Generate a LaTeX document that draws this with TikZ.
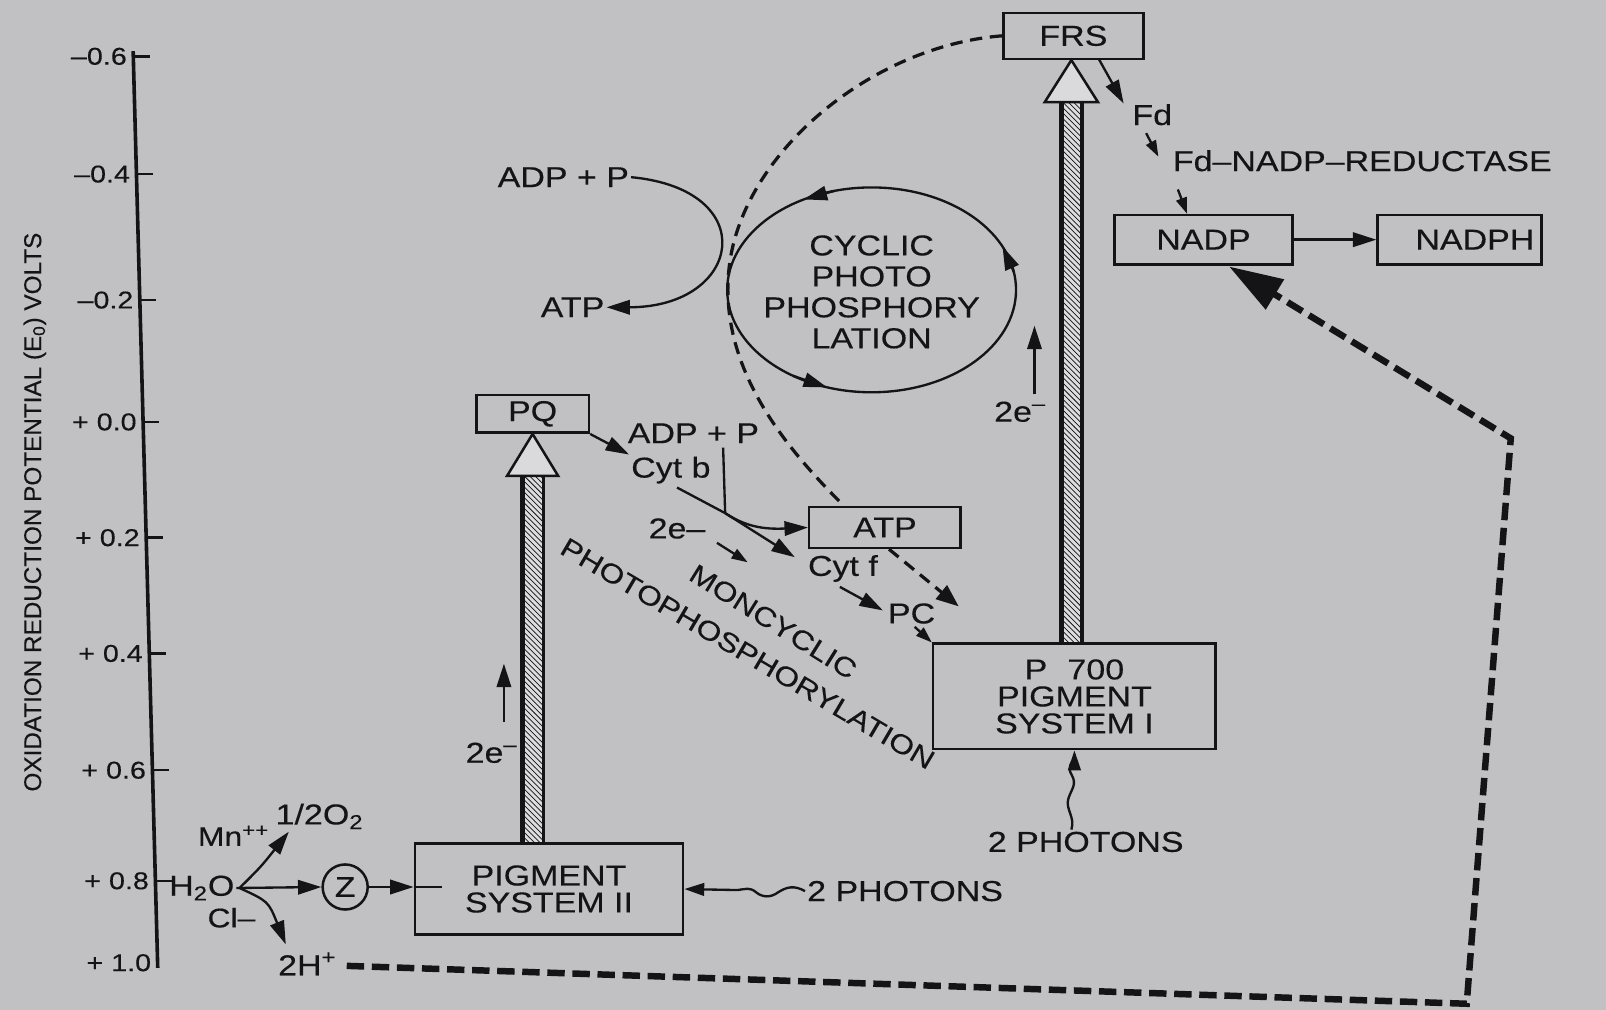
\documentclass[tikz,border=0pt]{standalone}
\usepackage{fontspec}
\setmainfont{Liberation Sans}[FakeStretch=1.18,FakeBold=0.3]
\newfontfamily\axisfont{Liberation Sans}[FakeBold=0.3]
\usetikzlibrary{arrows.meta,patterns,calc}
\definecolor{bg}{RGB}{193,193,196}
\definecolor{ink}{RGB}{20,20,22}
\begin{document}
\begin{tikzpicture}[x=0.02cm,y=-0.02cm,
  every node/.style={text=ink,font=\fontsize{16}{15}\selectfont},
  box/.style={draw=ink,line width=1.4pt,rectangle,inner sep=0pt,align=center},
  lbl/.style={inner sep=1pt,align=center},
  ticklbl/.style={inner sep=0pt,anchor=east,font=\fontsize{13.5}{14}\selectfont},
  ln/.style={draw=ink,line width=1.3pt},
  arr/.style={ln,-{Triangle[length=13pt,width=8pt]}},
  sarr/.style={ln,-{Triangle[length=9pt,width=6pt]}},
  bigdash/.style={draw=ink,line width=3.6pt,dash pattern=on 0.34cm off 0.15cm},
  thindash/.style={draw=ink,line width=1.8pt,dash pattern=on 0.24cm off 0.15cm},
  colbar/.style={pattern=north west lines,pattern color=ink},
]
\fill[bg] (0,0) rectangle (1568,986);
\useasboundingbox (0,0) rectangle (1568,986);

% ---------- axis ----------
\coordinate (axtop) at (130,50);
\coordinate (axbot) at (154,945);
\draw[ink,line width=2pt] (axtop) -- (axbot);
\foreach \y/\t/\n in {55/{–0.6}/a,170/{–0.4}/b,293/{–0.2}/c,412/{+ 0.0}/d,525/{+ 0.2}/e,638/{+ 0.4}/f,752/{+ 0.6}/g,860/{+ 0.8}/h,940/{+ 1.0}/i}{
  \pgfmathsetmacro\ax{130+(\y-50)/895*24}
  \node[ticklbl] (tick\n) at (\ax-6,\y) {\t};
}
\foreach \y in {55,170,293,412,525,638,752,860}{
  \pgfmathsetmacro\ax{130+(\y-50)/895*24}
  \draw[ink,line width=1.4pt] (\ax,\y) -- (\ax+16,\y);
}
\node[rotate=90,inner sep=0pt,font=\axisfont\fontsize{13.5}{14}\selectfont] (axlab) at (34,500)
  {OXIDATION REDUCTION POTENTIAL (E\textsubscript{0}) VOLTS};

% ---------- boxes ----------
\node[box,minimum width=2.74cm,minimum height=0.9cm] (frs) at (1048,35) {FRS};
\node[box,minimum width=3.48cm,minimum height=0.96cm] (nadp) at (1175,234) {NADP};
\node[box,minimum width=3.2cm,minimum height=0.96cm] (nadph) at (1425,234) {\hspace{0.6cm}NADPH};
\node[box,minimum width=2.2cm,minimum height=0.74cm] (pq) at (520,404) {PQ};
\node[box,minimum width=2.96cm,minimum height=0.8cm] (atp2) at (864,515) {ATP};
\node[box,minimum width=5.24cm,minimum height=1.78cm] (psii) at (536,868) {PIGMENT\\SYSTEM II};
\node[box,minimum width=5.52cm,minimum height=2.06cm] (psi) at (1049,680) {P\hspace{0.7em}700\\PIGMENT\\SYSTEM I};

% ---------- hatched columns ----------
% PSII -> PQ
\coordinate (c2a) at (pq.south);
\coordinate (c2t) at ($(pq.south)+(0,41)$);
\coordinate (c2b) at (pq.south |- psii.north);
\fill[bg!55!white] ($(c2t)+(-11,0)$) rectangle ($(c2b)+(11,0)$);
\fill[colbar] ($(c2t)+(-11,0)$) rectangle ($(c2b)+(11,0)$);
\draw[ink,line width=2.8pt] ($(c2t)+(-10,0)$) -- ($(c2b)+(-10,0)$);
\draw[ink,line width=1.8pt] ($(c2t)+(10.5,0)$) -- ($(c2b)+(10.5,0)$);
\draw[ink,line width=1.4pt,fill=bg!60!white,line join=miter] (c2a) -- ($(c2t)+(-25,0)$) -- ($(c2t)+(25,0)$) -- cycle;
% PSI -> FRS
\coordinate (c1a) at ($(frs.south)+(-2,0)$);
\coordinate (c1t) at ($(frs.south)+(-2,41)$);
\coordinate (c1b) at (c1a |- psi.north);
\fill[bg!55!white] ($(c1t)+(-11,0)$) rectangle ($(c1b)+(11,0)$);
\fill[colbar] ($(c1t)+(-11,0)$) rectangle ($(c1b)+(11,0)$);
\draw[ink,line width=2.8pt] ($(c1t)+(-10,0)$) -- ($(c1b)+(-10,0)$);
\draw[ink,line width=1.8pt] ($(c1t)+(10.5,0)$) -- ($(c1b)+(10.5,0)$);
\draw[ink,line width=1.4pt,fill=bg!60!white,line join=miter] (c1a) -- ($(c1t)+(-26,0)$) -- ($(c1t)+(26,0)$) -- cycle;

% ---------- 2e- arrows ----------
\node[lbl] (e2a) at (480,735) {2e\textsuperscript{–}};
\coordinate (e2ab) at (492,705);
\coordinate (e2at) at (492,648);
\draw[arr] (e2ab) -- (e2at);
\node[lbl] (e2b) at (996,402) {2e\textsuperscript{–}};
\coordinate (e2bb) at (1010,385);
\coordinate (e2bt) at (1010,318);
\draw[arr] (e2bb) -- (e2bt);

% ---------- water splitting ----------
\node[lbl] (h2o) at (197,867) {H\textsubscript{2}O};
\node[lbl,font=\fontsize{15}{15}\selectfont] (mn) at (228,816) {Mn\textsuperscript{++}};
\node[lbl] (o2) at (312,797) {1/2O\textsubscript{2}};
\node[lbl,font=\fontsize{15}{15}\selectfont] (cl) at (226,896) {Cl–};
\node[lbl] (hp) at (300,941) {2H\textsuperscript{+}};
\node[draw=ink,circle,line width=1.4pt,minimum size=0.88cm,inner sep=0pt] (z) at (337,866) {Z};
\coordinate (hs) at ($(h2o.east)+(3,0)$);
\coordinate (o2t) at (282,812);
\coordinate (hpt) at (279,922);
\draw[arr] (h2o.east) -- (z.west);
\draw[arr] (hs) .. controls (255,846) .. (o2t);
\draw[arr] (hs) .. controls (262,880) .. (hpt);
\coordinate (zin) at (z.east -| psii.west);
\draw[arr] (z.east) -- (zin);
\draw[ln] (zin) -- ++(28,0);

% photons to PSII
\node[lbl,anchor=west] (ph2) at (786,870) {2 PHOTONS};
\draw[ln,-{Triangle[length=11pt,width=7pt]}] (ph2.west) .. controls (775,864) and (768,866) .. (760,871)
  .. controls (752,877) and (744,876) .. (738,871) .. controls (732,866) and (728,868) .. (720,869) -- (psii.east);

% photons to PSI
\node[lbl] (ph1) at (1060,822) {2 PHOTONS};
\draw[ln,-{Triangle[length=11pt,width=7pt]}] ($(ph1.north)+(-14,0)$) .. controls (1050,798) and (1040,790) .. (1043,780)
  .. controls (1046,770) and (1052,766) .. (1046,756) .. controls (1042,749) and (1046,745) .. (1049,740) -- (psi.south);

% ---------- cyclic photophosphorylation ----------
\node[lbl,font=\fontsize{16}{17.2}\selectfont] (cyc) at (851,285) {CYCLIC\\PHOTO\\PHOSPHORY\\LATION};
\draw[ln] (851,283) ellipse [x radius=141, y radius=100];
\coordinate (ca1) at (814.5,186.4); \coordinate (ca2) at (784.8,194.7);
\coordinate (cb1) at (989.9,265.6); \coordinate (cb2) at (978.8,240.7);
\coordinate (cc1) at (774.2,366.9); \coordinate (cc2) at (807.4,378.1);
\draw[arr] (ca1) -- (ca2);
\draw[arr] (cb1) -- (cb2);
\draw[arr] (cc1) -- (cc2);

\node[lbl] (adp1) at (550,173) {ADP + P};
\node[lbl] (atp1) at (559,300) {ATP};
\draw[arr] (adp1.east) .. controls (745,185) and (725,300) .. (atp1.east);

% ---------- noncyclic chain ----------
\node[lbl] (adp2) at (677,423) {ADP + P};
\node[lbl] (cytb) at (655,459) {Cyt b};
\node[lbl] (e2c) at (661,516) {2e–};
\node[lbl] (cytf) at (823,555) {Cyt f};
\node[lbl] (pc) at (890,599) {PC};
\draw[arr] (pq.south east) -- (cytb.north west);
\coordinate (j) at (708,501);
\coordinate (cbs) at (661,476);
\coordinate (adpb) at (706,437);
\coordinate (tocf) at (776,544);
\draw[ln] (cbs) -- (j);
\draw[ln] (adpb) -- (j);
\draw[arr] (j) .. controls (728,514) and (745,517) .. (atp2.west);
\draw[arr] (j) -- (tocf);
\coordinate (s1) at (700,530); \coordinate (s2) at (730,549);
\draw[sarr] (s1) -- (s2);
\coordinate (cf1) at (820,573); \coordinate (cf2) at (862,596);
\draw[arr] (cf1) -- (cf2);
\coordinate (pc1) at (893,612);
\draw[sarr] (pc1) -- (psi.north west);

\node[inner sep=0pt,rotate=-32,font=\fontsize{15}{15}\selectfont] (mon) at (755,607) {MONCYCLIC};
\node[inner sep=0pt,rotate=-30.5,font=\fontsize{15}{15}\selectfont] (photo) at (730,638) {PHOTOPHOSPHORYLATION};

% dashed cyclic return FRS -> ATP
\coordinate (atpin) at ($(atp2.north west)+(35,0)$);
\coordinate (mid) at (712,260);
\draw[thindash] (frs.west) .. controls (850,45) and (725,150) .. (mid)
  .. controls (700,360) and (770,440) .. (atpin);
\coordinate (pctip) at (936,592);
\draw[thindash,-{Triangle[length=0.44cm,width=0.34cm]}] ($(atp2.south)+(4,0)$) -- (pctip);

% ---------- FRS -> NADP ----------
\node[lbl] (fd) at (1125,112) {Fd};
\node[lbl,anchor=west] (red) at (1143,157) {Fd–NADP–REDUCTASE};
\coordinate (f1) at (1073,58); \coordinate (f2) at (1097,101);
\draw[arr] (f1) -- (f2);
\coordinate (f3) at (1119,130); \coordinate (f4) at (1131,153);
\draw[sarr] (f3) -- (f4);
\coordinate (f5) at (1150,185);
\draw[sarr] (f5) -- ($(nadp.north)+(-16,0)$);
\draw[arr] (nadp) -- (nadph);

% ---------- big dashed return ----------
\coordinate (d1) at ($(hp.east)+(8,2)$);
\coordinate (d2) at (1432,980);
\coordinate (d3) at (1475,428);
\draw[bigdash,-{Triangle[length=1.05cm,width=0.66cm]}] (d1) -- (d2) -- (d3) -- ($(nadp.south)+(25,1)$);
\end{tikzpicture}
\end{document}
